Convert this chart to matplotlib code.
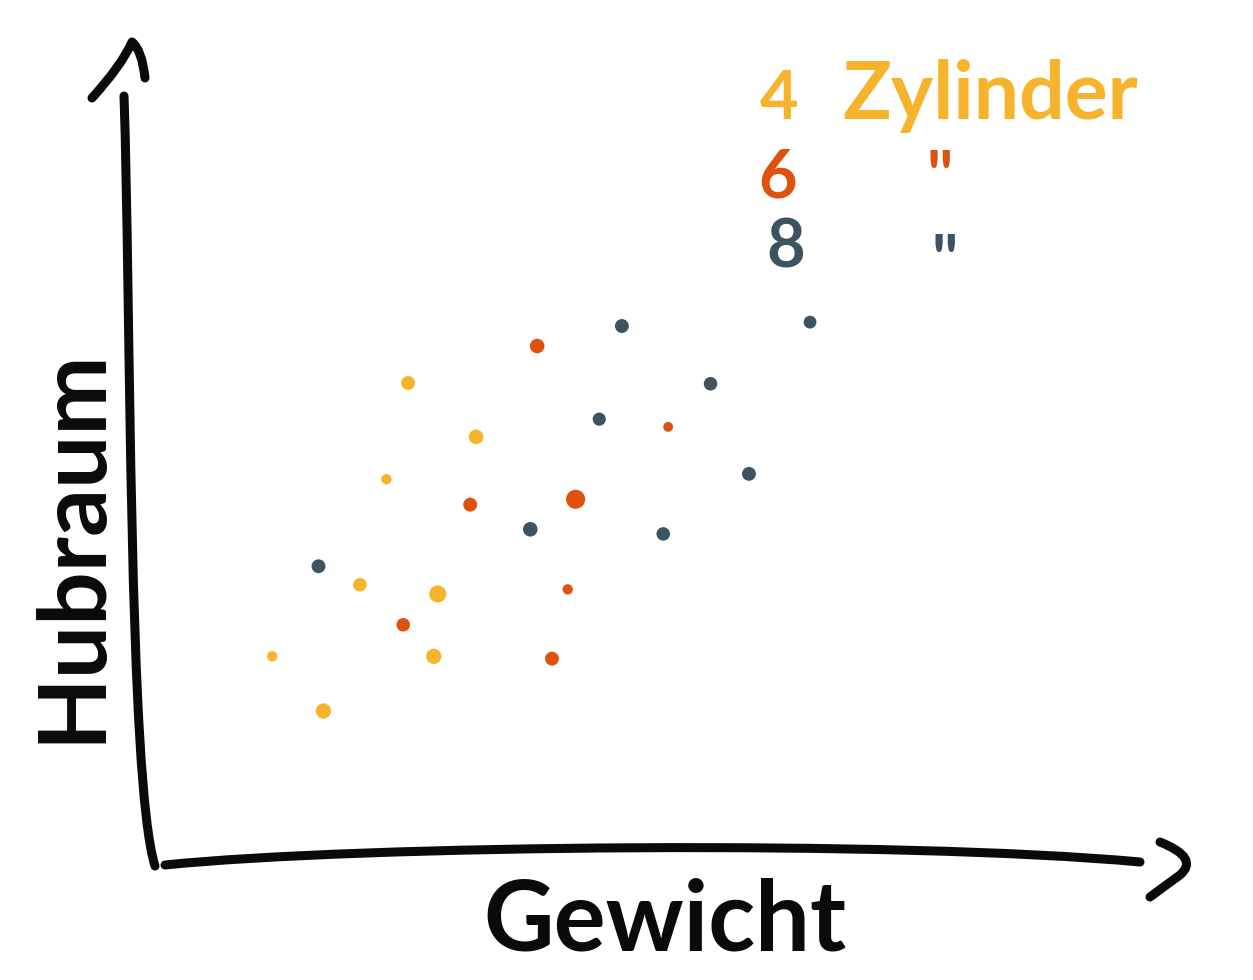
import numpy as np
import matplotlib.pyplot as plt
from matplotlib.path import Path
from matplotlib.patches import PathPatch

# Gewicht (x) und Hubraum (y), beliebige Einheiten 0..10
gewicht_4 = [2.57, 3.26, 2.35, 2.08, 2.87, 2.83, 1.19, 1.71]
hubraum_4 = [6.26, 5.56, 5.01, 3.64, 3.52, 2.71, 2.71, 2.00]
gewicht_6 = [3.88, 5.21, 3.20, 4.27, 4.19, 2.52, 4.03]
hubraum_6 = [6.74, 5.69, 4.68, 4.75, 3.58, 3.12, 2.68]
gewicht_8 = [4.74, 6.65, 5.64, 4.51, 6.03, 3.81, 5.16, 1.66]
hubraum_8 = [7.00, 7.05, 6.25, 5.79, 5.08, 4.36, 4.30, 3.88]

groesse_4 = [100, 110, 55, 95, 150, 120, 55, 120]
groesse_6 = [110, 50, 100, 190, 55, 95, 100]
groesse_8 = [100, 85, 95, 90, 100, 110, 95, 100]

gelb = '#F7B32B'
orange = '#DF520E'
dunkel = '#3D5361'
schwarz = '#0a0a0a'

W, H = 1253, 980
fig = plt.figure(figsize=(W / 100, H / 100), dpi=100)
fig.patch.set_facecolor('white')
ax = fig.add_axes([155 / W, (H - 865) / H, 985 / W, 770 / H])
ax.set_xlim(0, 10)
ax.set_ylim(0, 10)
ax.axis('off')

ax.scatter(gewicht_4, hubraum_4, s=groesse_4, color=gelb, linewidths=0, zorder=3)
ax.scatter(gewicht_6, hubraum_6, s=groesse_6, color=orange, linewidths=0, zorder=3)
ax.scatter(gewicht_8, hubraum_8, s=groesse_8, color=dunkel, linewidths=0, zorder=3)


def strich(pts, codes):
    # Pixelpunkte -> Achsenkoordinaten, als weiche Bezierlinie
    p = np.array(pts, dtype=float)
    x = (p[:, 0] - 155) / 985
    y = (865 - p[:, 1]) / 770
    patch = PathPatch(Path(np.column_stack([x, y]), codes), transform=ax.transAxes,
                      facecolor='none', edgecolor=schwarz, lw=6.5,
                      capstyle='round', joinstyle='round', clip_on=False)
    ax.add_patch(patch)


M, C3, C4 = Path.MOVETO, Path.CURVE3, Path.CURVE4
# y-Achse mit Pfeil
strich([(155, 866), (128, 780), (131, 300), (124, 96)], [M, C4, C4, C4])
strich([(92, 98), (122, 65), (132, 42), (142, 50), (145, 78)], [M, C3, C3, C3, C3])
# x-Achse mit Pfeil
strich([(165, 865), (360, 845), (900, 840), (1140, 862)], [M, C4, C4, C4])
strich([(1160, 842), (1200, 858), (1180, 875), (1162, 888), (1150, 897)],
       [M, C3, C3, C3, C3])

fam = ['Lato', 'DejaVu Sans']
fig.text(665 / W, 1 - 922 / H, 'Gewicht', fontsize=70, fontweight='bold',
         color=schwarz, ha='center', va='center', family=fam)
fig.text(72 / W, 1 - 545 / H, 'Hubraum', fontsize=68, fontweight='bold',
         color=schwarz, ha='center', va='center', rotation=90, family=fam)

fig.text(760 / W, 1 - 100 / H, '4', fontsize=48, fontweight='bold', color=gelb,
         ha='left', va='center', family=fam)
fig.text(842 / W, 1 - 96 / H, 'Zylinder', fontsize=58, fontweight='bold', color=gelb,
         ha='left', va='center', family=fam)
fig.text(758 / W, 1 - 178 / H, '6', fontsize=48, fontweight='bold', color=orange,
         ha='left', va='center', family=fam)
fig.text(926 / W, 1 - 180 / H, '"', fontsize=48, fontweight='bold', color=orange,
         ha='left', va='center', family=fam)
fig.text(766 / W, 1 - 248 / H, '8', fontsize=48, fontweight='bold', color=dunkel,
         ha='left', va='center', family=fam)
fig.text(932 / W, 1 - 264 / H, '"', fontsize=48, fontweight='bold', color=dunkel,
         ha='left', va='center', family=fam)

fig.savefig('out.png', dpi=100, facecolor='white')
